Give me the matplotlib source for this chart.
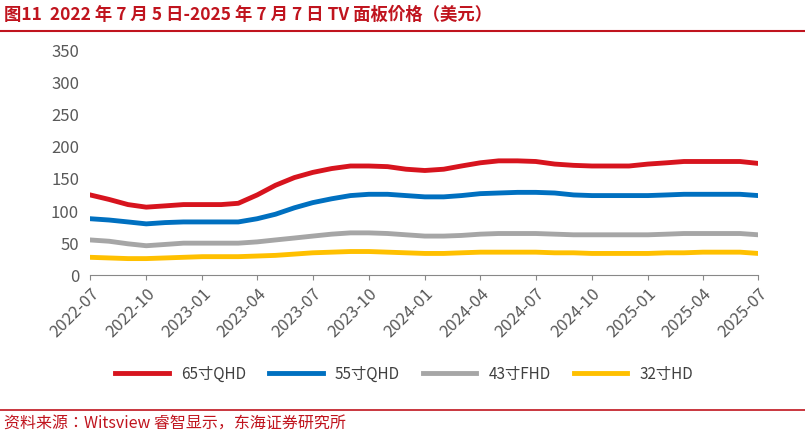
import matplotlib
matplotlib.use("Agg")
import matplotlib.pyplot as plt
from matplotlib import font_manager as fm
import pandas as pd

months = pd.date_range("2022-07-01", "2025-07-01", freq="MS")
p65 = [125,118,110,106,108,110,110,110,112,125,140,152,160,166,170,170,169,165,163,165,170,175,178,178,177,173,171,170,170,170,173,175,177,177,177,177,174]
p55 = [88,86,83,80,82,83,83,83,83,88,95,105,113,119,124,126,126,124,122,122,124,127,128,129,129,128,125,124,124,124,124,125,126,126,126,126,124]
p43 = [55,53,49,46,48,50,50,50,50,52,55,58,61,64,66,66,65,63,61,61,62,64,65,65,65,64,63,63,63,63,63,64,65,65,65,65,63]
p32 = [28,27,26,26,27,28,29,29,29,30,31,33,35,36,37,37,36,35,34,34,35,36,36,36,36,35,35,34,34,34,34,35,35,36,36,36,34]
series = [("65寸QHD", p65, "#d7141e"), ("55寸QHD", p55, "#0070c0"),
          ("43寸FHD", p43, "#a6a6a6"), ("32寸HD", p32, "#ffc000")]
yticks = [0,50,100,150,200,250,300,350]

cjk = None
for f in fm.fontManager.ttflist:
    if "CJK" in f.name:
        cjk = f.name
        if "SC" in f.name:
            break
fams = [cjk] if cjk else []
plt.rcParams["font.family"] = ["DejaVu Sans"] + fams if False else fams + ["DejaVu Sans"]

fig = plt.figure(figsize=(8.05,4.37), dpi=100)
ax = fig.add_axes([0.112, 0.37, 0.83, 0.515])
for name, v, c in series:
    ax.plot(months, v, color=c, lw=3.5, label=name)
ax.set_ylim(0,350)
ax.set_yticks(yticks)
ax.set_xlim(months[0], months[-1])
ax.set_xticks(months[::3])
ax.set_xticklabels([d.strftime("%Y-%m") for d in months[::3]], rotation=45, ha="right", rotation_mode="anchor")
for s in ["top","right","left"]:
    ax.spines[s].set_visible(False)
ax.spines["bottom"].set_color("#888888")
ax.tick_params(axis="y", length=0, labelsize=12, colors="#595959", pad=8)
ax.tick_params(axis="x", labelsize=12, colors="#595959", color="#888888")
ax.legend(loc="upper center", bbox_to_anchor=(0.47, -0.34), ncol=4, frameon=False,
          fontsize=11, handlelength=3.5, labelcolor="#404040", columnspacing=1.5)
fig.text(0.005, 0.965, "图11  2022 年 7 月 5 日-2025 年 7 月 7 日 TV 面板价格（美元）",
         color="#c0141e", fontsize=12.5, fontweight="bold", va="center")
fig.add_artist(plt.Line2D([0,1],[0.93,0.93], color="#c0141e", lw=1.5))
fig.add_artist(plt.Line2D([0,1],[0.062,0.062], color="#c0141e", lw=1.2))
fig.text(0.005, 0.03, "资料来源：Witsview 睿智显示，东海证券研究所", color="#c0141e", fontsize=11.5, va="center")
fig.savefig("out.png", dpi=100)
